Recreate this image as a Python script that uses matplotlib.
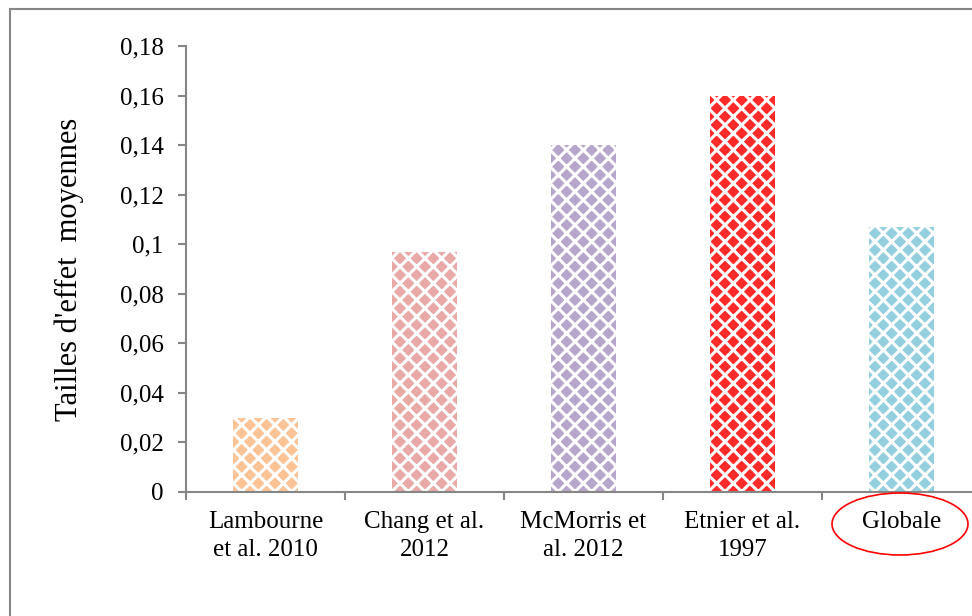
import matplotlib.pyplot as plt
from matplotlib.patches import Rectangle, Ellipse
import numpy as np

# Données
etudes = ['Lambourne\net al. 2010', 'Chang et al.\n2012', 'McMorris et\nal. 2012',
          'Etnier et al.\n1997', 'Globale']
tailles = [0.030, 0.097, 0.140, 0.160, 0.107]
couleurs = ['#FBC396', '#E8A9A7', '#B6A6CB', '#FF2A2A', '#93CFDF']
yticks = [0, 0.02, 0.04, 0.06, 0.08, 0.10, 0.12, 0.14, 0.16, 0.18]
ylabels = ['0', '0,02', '0,04', '0,06', '0,08', '0,1', '0,12', '0,14', '0,16', '0,18']

plt.rcParams['font.family'] = ['Liberation Serif', 'DejaVu Serif']
plt.rcParams['hatch.linewidth'] = 2.2

fig = plt.figure(figsize=(9.72, 6.16), dpi=100)
# cadre du graphique (coupé à droite et en bas)
fig.patches.append(Rectangle((10 / 972, -0.1), 1.2, 1.1 - 9 / 616, transform=fig.transFigure,
                             fill=False, edgecolor='#868686', linewidth=1.5))

ax = fig.add_axes([186 / 972, 1 - 492 / 616, 795 / 972, 446 / 616])
x = np.arange(len(etudes))
ax.bar(x, tailles, width=0.41, color=couleurs, edgecolor='white', hatch='xx',
       linewidth=0)

ax.set_xlim(-0.5, len(etudes) - 0.5)
ax.set_ylim(0, 0.18)
ax.set_yticks(yticks)
ax.set_yticklabels(ylabels, fontsize=18)
ax.set_xticks(x)
ax.set_xticklabels(etudes, fontsize=18, linespacing=1.3)
ax.set_xticks(np.arange(len(etudes) + 1) - 0.5, minor=True)
ax.tick_params(axis='x', which='major', length=0, pad=14)
ax.tick_params(axis='x', which='minor', length=6, color='#868686', width=1.5)
ax.tick_params(axis='y', length=6, color='#868686', width=1.5, pad=10)

for s in ['top', 'right']:
    ax.spines[s].set_visible(False)
for s in ['left', 'bottom']:
    ax.spines[s].set_color('#868686')
    ax.spines[s].set_linewidth(1.5)

ax.set_ylabel("Tailles d'effet  moyennes", fontsize=22, labelpad=26)

# ellipse rouge autour de "Globale"
fig.patches.append(Ellipse((900 / 972, 1 - 524 / 616), 136 / 972, 62 / 616,
                           transform=fig.transFigure, fill=False, edgecolor='red', linewidth=1.2))

plt.savefig('out.png', dpi=100)
